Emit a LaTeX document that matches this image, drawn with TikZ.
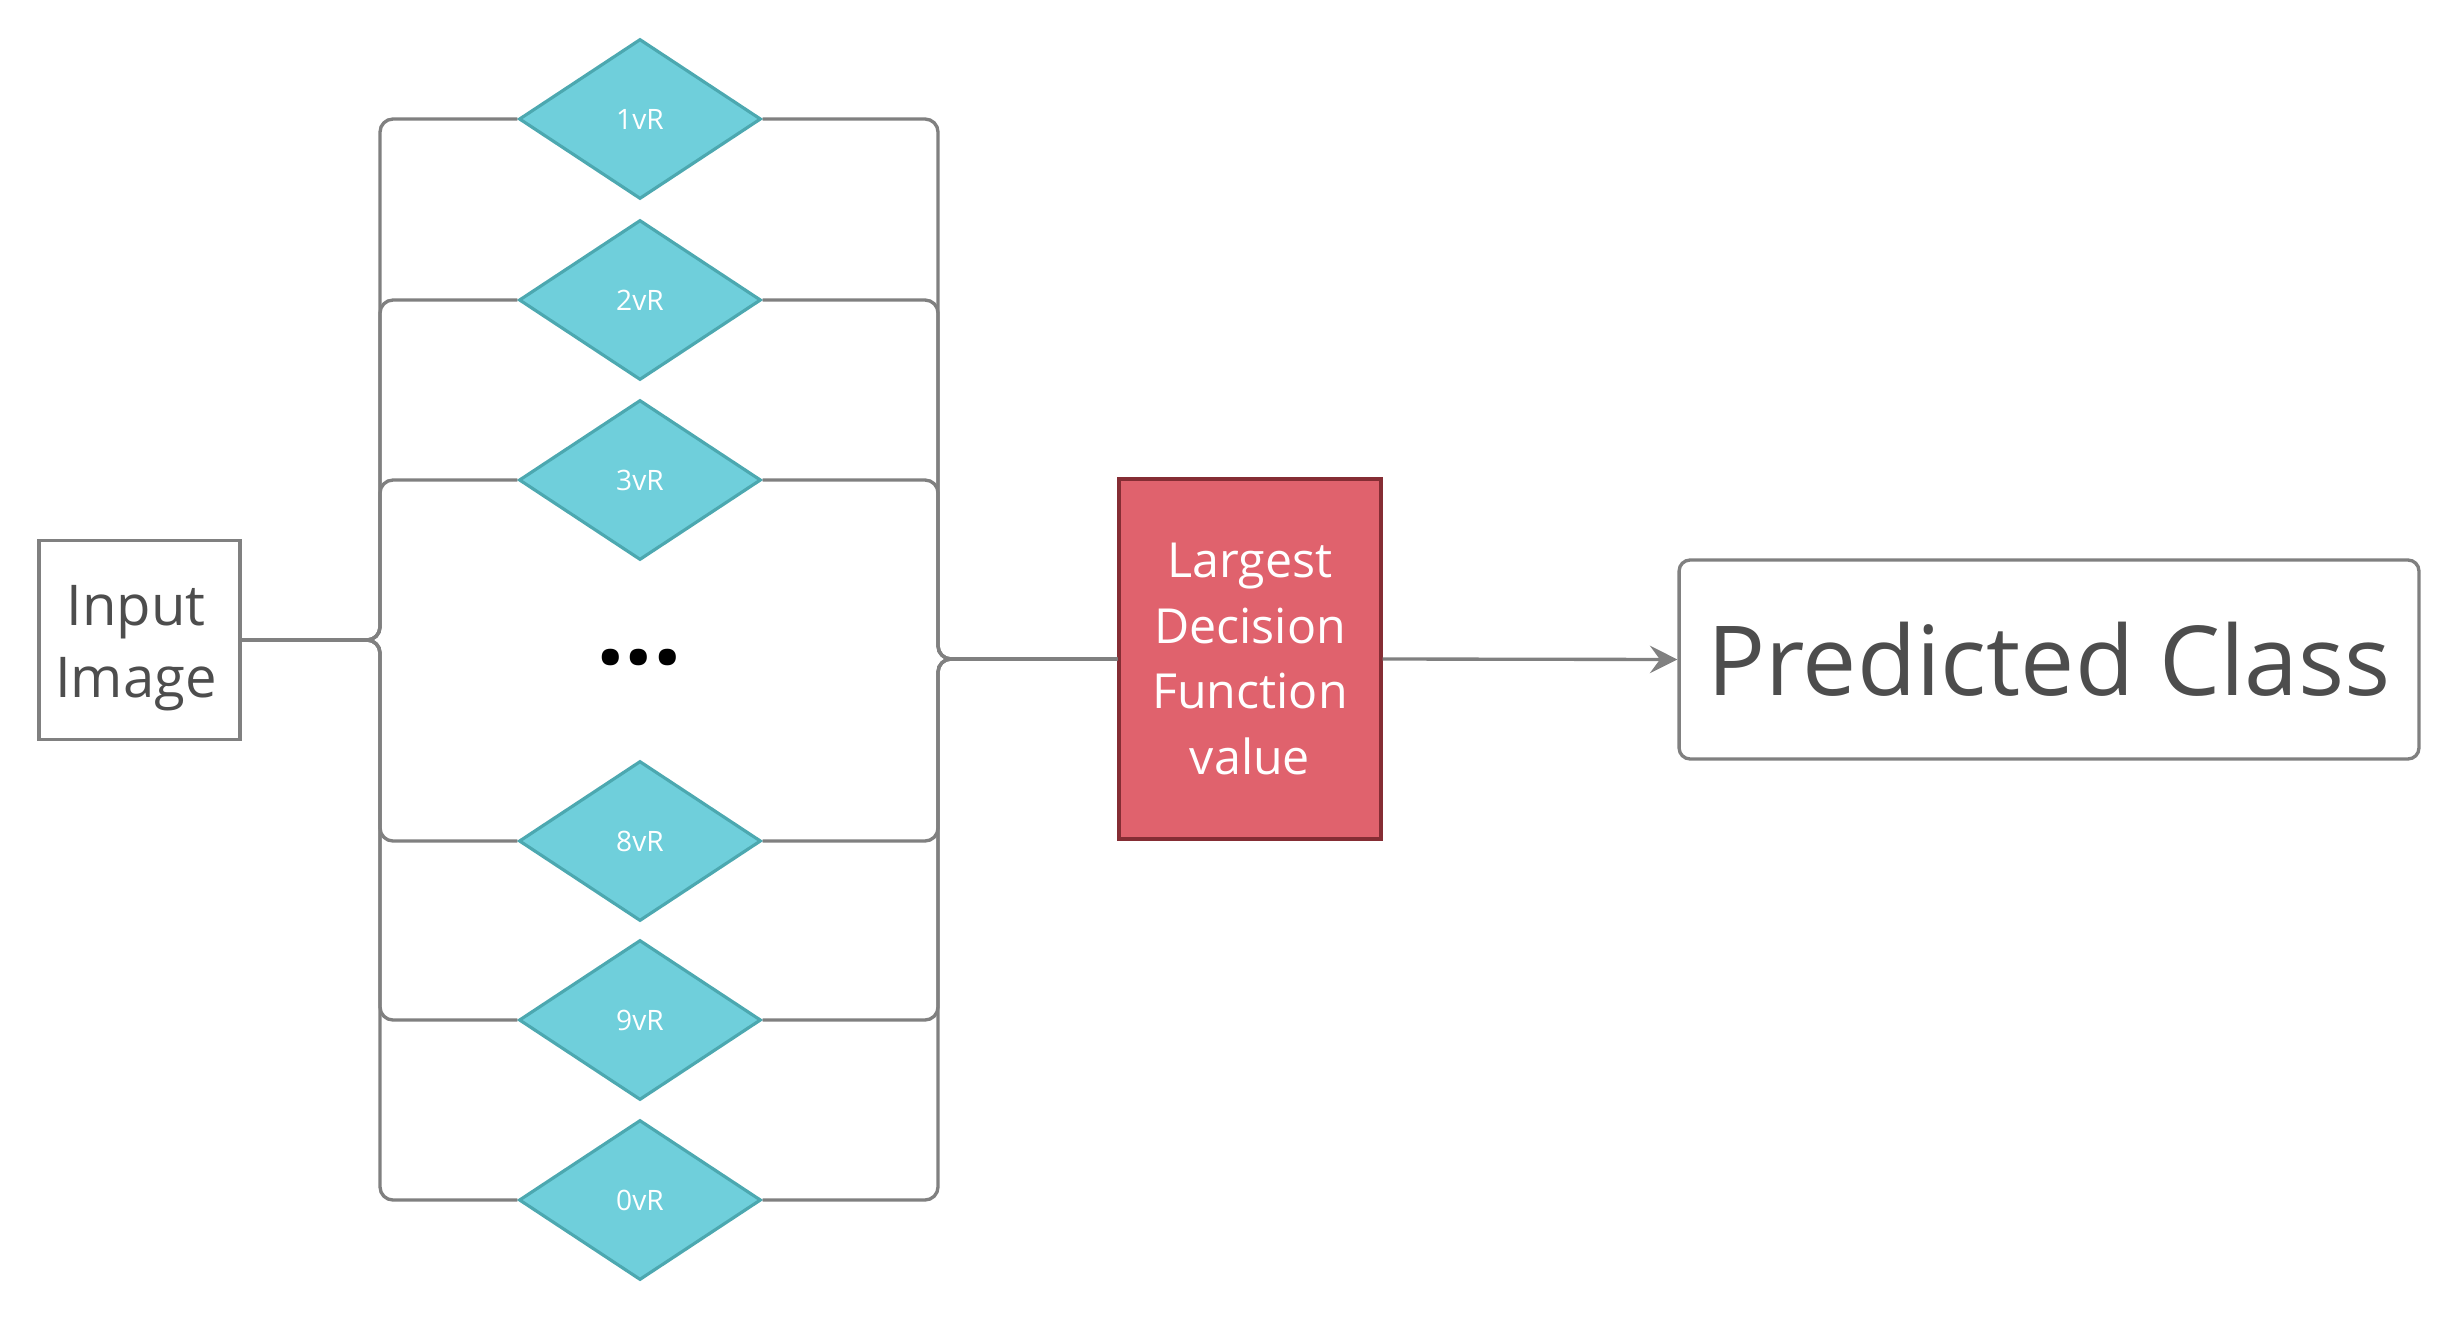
\documentclass[tikz,border=0pt]{standalone}
\usepackage{fontspec}
\setmainfont{Open Sans}
\usetikzlibrary{shapes.geometric,arrows.meta}
\definecolor{linegray}{RGB}{128,128,128}
\definecolor{txtgray}{RGB}{77,77,77}
\definecolor{dfill}{RGB}{111,207,219}
\definecolor{dline}{RGB}{76,168,176}
\definecolor{rfill}{RGB}{224,98,109}
\definecolor{rline}{RGB}{133,45,52}
\tikzset{
  conn/.style={draw=linegray, line width=1.9pt, rounded corners=0.26cm},
  dia/.style={diamond, draw=dline, fill=dfill, line width=1.8pt, inner sep=0pt,
    minimum width=4.84cm, minimum height=3.2cm, text=white, font=\fontsize{16}{18}\selectfont},
  inbox/.style={draw=linegray, line width=1.9pt, minimum width=4.02cm, minimum height=3.98cm,
    inner sep=0pt},
  intext/.style={align=center, text=txtgray, inner sep=0pt, font=\fontsize{32}{41}\selectfont},
  redbox/.style={draw=rline, fill=rfill, line width=1.9pt, minimum width=5.24cm, minimum height=7.2cm,
    inner sep=0pt, align=center, text=white, font=\fontsize{27.5}{37.4}\selectfont},
  predbox/.style={draw=linegray, line width=1.9pt, rounded corners=0.22cm, minimum width=14.8cm,
    minimum height=3.98cm, inner sep=0pt, text=txtgray, font=\fontsize{55}{60}\selectfont}
}
\begin{document}
\begin{tikzpicture}[x=0.02cm, y=-0.02cm]
\useasboundingbox (0,0) rectangle (2460,1321);
\node[inbox] (in) at (139.5,640) {};
\node[intext] (inlabel) at (136,648) {Input\\Image};
\node[dia] (d1) at (640,119) {1vR};
\node[dia] (d2) at (640,300) {2vR};
\node[dia] (d3) at (640,480) {3vR};
\node[dia] (d8) at (640,841) {8vR};
\node[dia] (d9) at (640,1020) {9vR};
\node[dia] (d0) at (640,1200) {0vR};
\node[anchor=base, font=\bfseries\fontsize{57}{60}\selectfont] (dots) at (639,664) {...};
\node[redbox] (red) at (1250,659) {Largest\\Decision\\Function\\value};
\node[predbox] (pred) at (2049,659.5) {Predicted Class};
\coordinate (busL) at (380,0);
\coordinate (busR) at (938,0);
\foreach \d in {d1,d2,d3,d8,d9,d0}{
  \draw[conn] (in.east) -- (in.east -| busL) |- (\d.west);
  \draw[conn] (\d.east) -| (busR |- red.west) -- (red.west);
}
\draw[draw=linegray, line width=1.9pt, -{Stealth[length=0.55cm, width=0.55cm, inset=0.2cm]}] (red.east) -- (pred.west);
\end{tikzpicture}
\end{document}
